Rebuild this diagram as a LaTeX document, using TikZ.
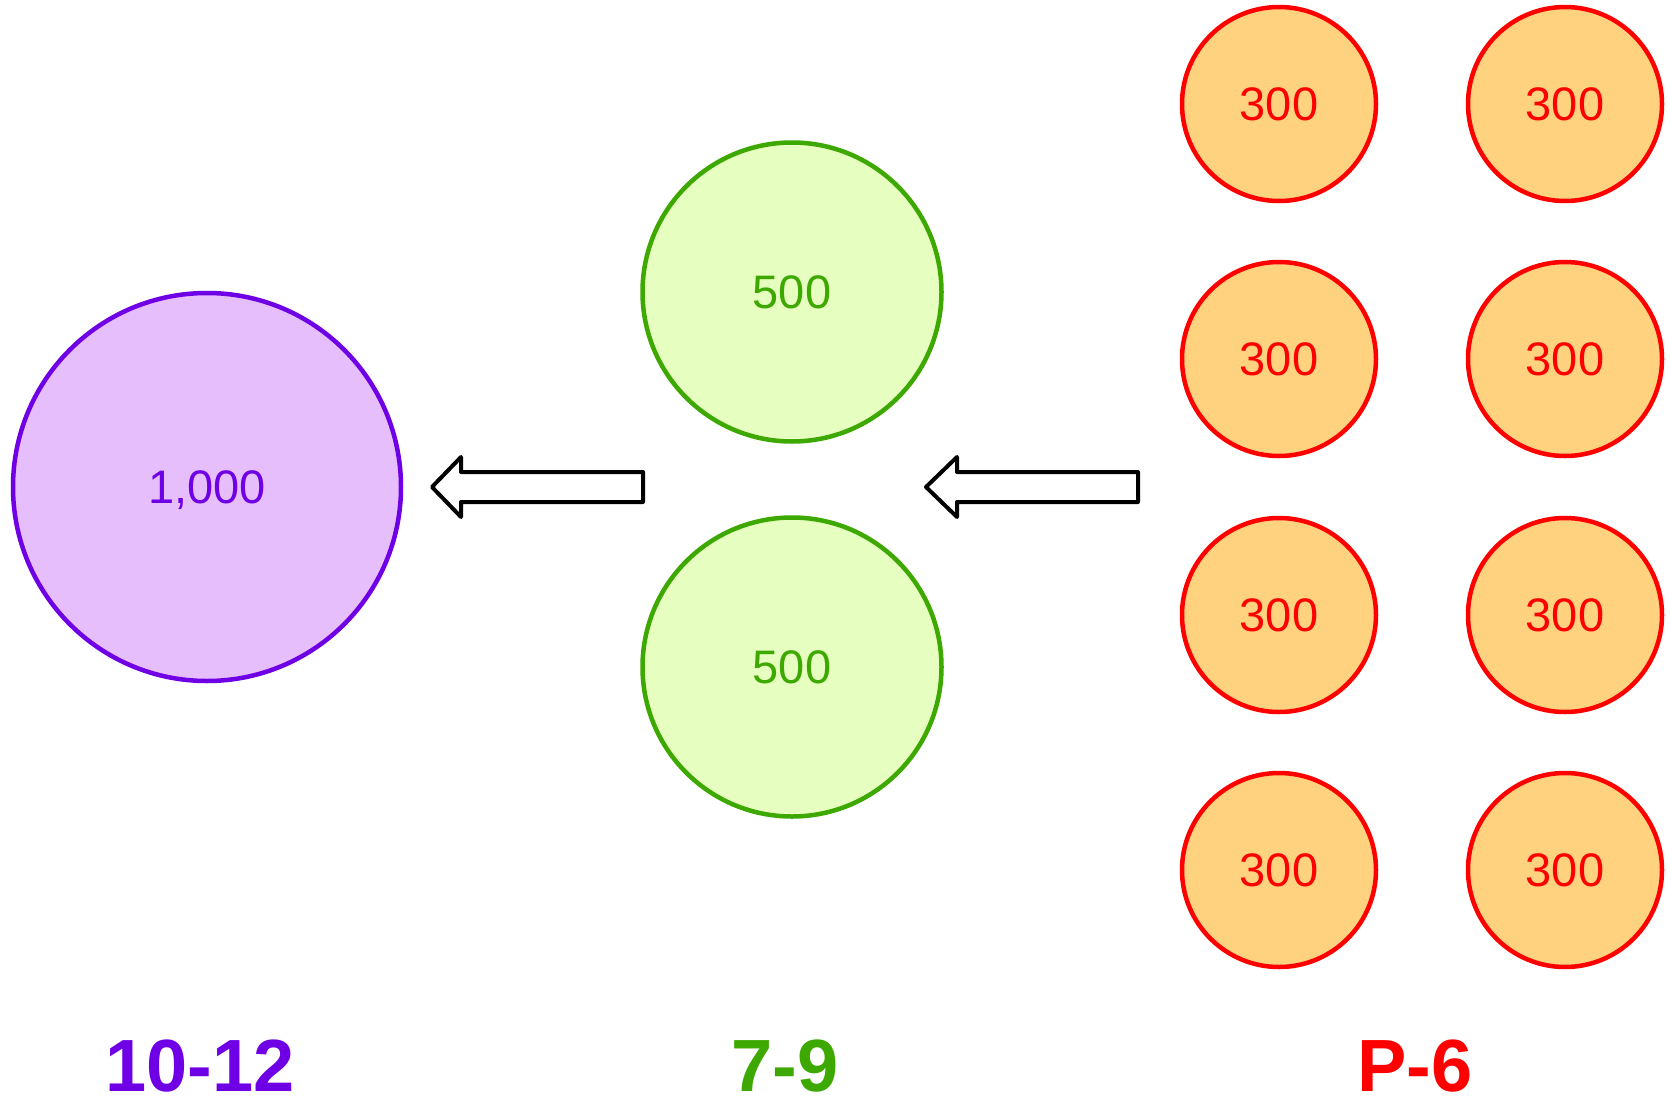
\documentclass[tikz,border=0pt]{standalone}
\usepackage{fontspec}
\setmainfont{Liberation Sans}
\definecolor{purpleL}{HTML}{6F00E6}
\definecolor{purpleF}{HTML}{E6BEFC}
\definecolor{greenL}{HTML}{3DA800}
\definecolor{greenF}{HTML}{E6FEC0}
\definecolor{redL}{HTML}{FF0000}
\definecolor{orangeF}{HTML}{FFD27F}
\tikzset{
  big/.style={circle, draw=purpleL, fill=purpleF, line width=4.5pt, minimum size=388pt, inner sep=0pt, text=purpleL, text depth=0pt, font=\fontsize{47}{47}\selectfont},
  mid/.style={circle, draw=greenL, fill=greenF, line width=4.5pt, minimum size=299pt, inner sep=0pt, text=greenL, font=\fontsize{47}{47}\selectfont},
  small/.style={circle, draw=redL, fill=orangeF, line width=4.5pt, minimum size=194pt, inner sep=0pt, text=redL, font=\fontsize{47}{47}\selectfont},
  grade/.style={font=\bfseries\fontsize{74}{74}\selectfont, anchor=base, inner sep=0pt},
  blockarrow/.style={draw=black, fill=white, line width=4pt, line join=round}
}
\begin{document}
\begin{tikzpicture}[x=1pt, y=-1pt]
\useasboundingbox (0,0) rectangle (1671,1103);
\node[big] (A) at (207,487) {1,000};
\node[mid] (B1) at (792,292) {500};
\node[mid] (B2) at (792,667) {500};
\foreach \r/\y in {1/104,2/359,3/615,4/870}{
  \node[small] (C\r a) at (1279,\y) {300};
  \node[small] (C\r b) at (1565,\y) {300};
}
\node[grade, text=purpleL] (L1) at (200,1091) {10-12};
\node[grade, text=greenL] (L2) at (785,1091) {7-9};
\node[grade, text=redL] (L3) at (1415,1091) {P-6};
% block arrows
\draw[blockarrow] (432,487) -- (461,457) -- (461,472) -- (643,472) -- (643,502) -- (461,502) -- (461,517) -- cycle;
\draw[blockarrow] (926,487) -- (957,457) -- (957,472) -- (1138,472) -- (1138,502) -- (957,502) -- (957,517) -- cycle;
\end{tikzpicture}
\end{document}
